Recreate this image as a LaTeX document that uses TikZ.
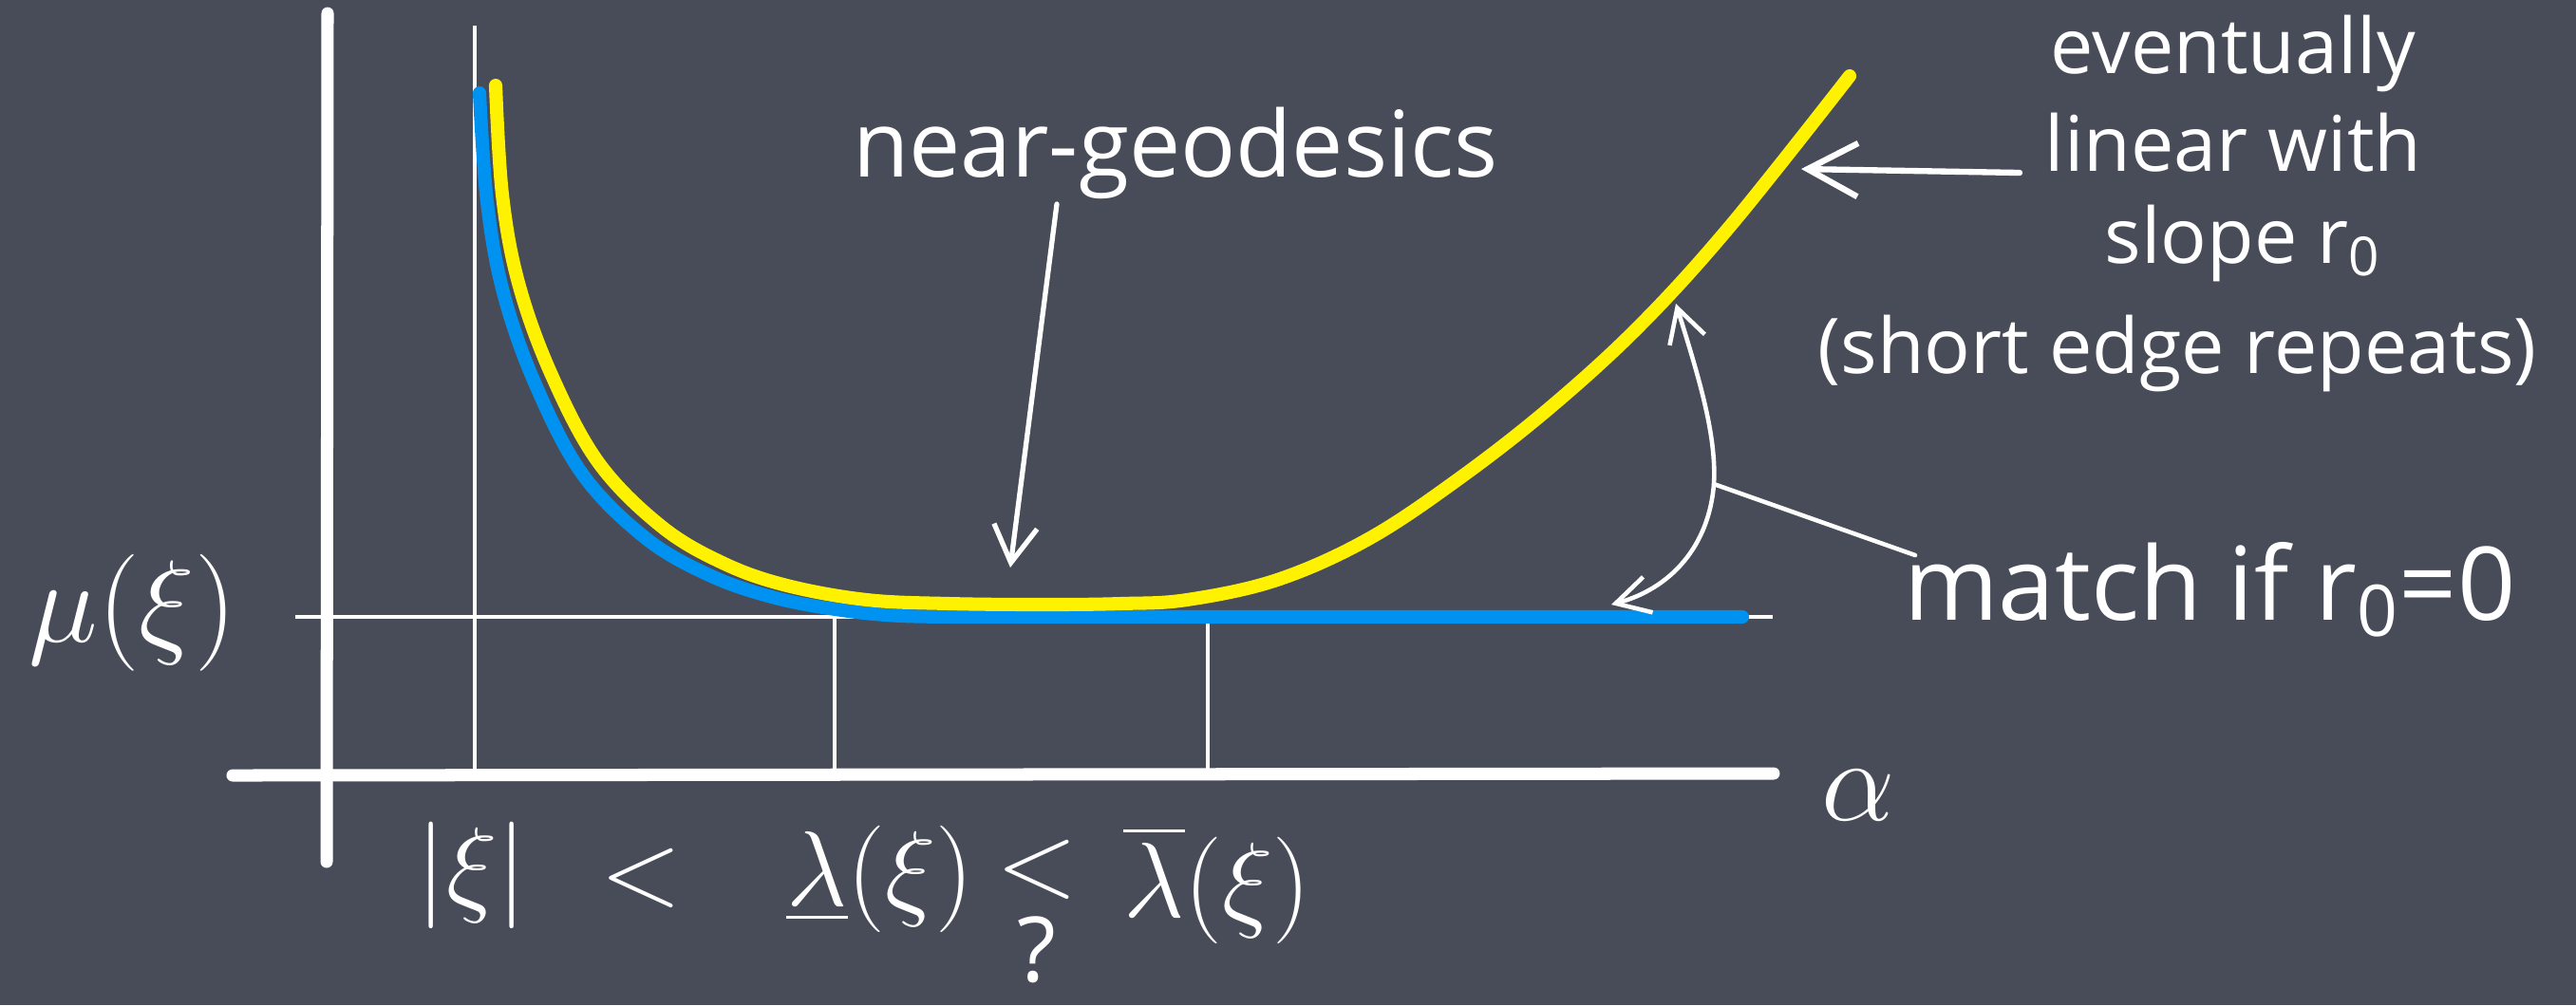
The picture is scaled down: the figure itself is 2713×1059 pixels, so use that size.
\RequirePackage{fix-cm}
\documentclass[tikz,border=0pt]{standalone}
\usepackage{amsmath}
\usepackage{fontspec}
\setmainfont{Open Sans}
\usetikzlibrary{arrows.meta}
\definecolor{board}{RGB}{72,76,89}
\definecolor{chalkyellow}{RGB}{255,242,0}
\definecolor{chalkblue}{RGB}{0,146,240}
\tikzset{
  axisthick/.style={white, line width=3.7pt, line cap=round},
  axisthin/.style={white, line width=1.4pt},
  curveblue/.style={chalkblue, line width=4pt, line cap=round},
  curveyellow/.style={chalkyellow, line width=4pt, line cap=round},
  bigpointer/.style={white, line width=1.8pt, line cap=round, -{Straight Barb[length=15pt,width=16pt,line width=1.8pt]}},
  pointer/.style={white, line width=1.5pt, line cap=round, -{Straight Barb[length=11pt,width=13pt,line width=1.5pt]}},
  thinpointer/.style={white, line width=1.3pt, line cap=round, {Straight Barb[length=10pt,width=11pt,line width=1.3pt]}-{Straight Barb[length=10pt,width=11pt,line width=1.3pt]}},
  leader/.style={white, line width=1.3pt, line cap=round},
  lbl/.style={text=white, inner sep=0pt, outer sep=0pt},
  mathlbl/.style={lbl, font=\fontsize{32}{36}\selectfont},
  textlbl/.style={lbl, font=\fontsize{27.5}{31}\selectfont},
  sidelbl/.style={lbl, font=\fontsize{23}{27}\selectfont},
  matchlbl/.style={lbl, font=\fontsize{30.5}{34}\selectfont}
}
\begin{document}
\begin{tikzpicture}[x=0.01cm,y=-0.01cm]
\fill[board] (0,0) rectangle (2713,1059);
\useasboundingbox (0,0) rectangle (2713,1059);

% axes and guide lines
\coordinate (yTop) at (345,14);
\coordinate (yBot) at (344,908);
\coordinate (xLeft) at (245,817);
\coordinate (xRight) at (1868,815);
\coordinate (xiTop) at (500,27);
\coordinate (xiBot) at (500,816);
\coordinate (muLeft) at (311,650);
\coordinate (muRight) at (1867,650);
\coordinate (lamTop) at (879,650);
\coordinate (lamBot) at (879,816);
\coordinate (lbTop) at (1272,650);
\coordinate (lbBot) at (1272,816);

\draw[axisthin] (xiTop) -- (xiBot);
\draw[axisthin] (muLeft) -- (muRight);
\draw[axisthin] (lamTop) -- (lamBot);
\draw[axisthin] (lbTop) -- (lbBot);
\draw[axisthick] (yTop) -- (yBot);
\draw[axisthick] (xLeft) -- (xRight);

% curves
\coordinate (blueEnd) at (1835,650);
\draw[curveblue] plot[smooth, tension=0.6] coordinates {(505,98) (513,213) (530,308) (563,403) (613,499) (680,567) (747,606) (813,629) (880,642) (950,649) (1050,650)} -- (blueEnd);
\draw[curveyellow] plot[smooth, tension=0.6] coordinates {(522,90) (529,205) (546,298) (580,393) (630,487) (697,555) (763,594) (829,617) (913,632) (1000,636) (1100,637) (1180,636) (1250,632) (1345,611) (1441,568) (1537,504) (1633,429) (1728,342) (1824,236) (1948,80)};

% labels on axes
\node[mathlbl, font=\fontsize{35}{40}\selectfont, anchor=base] (mu) at (140,676) {$\mu(\xi)$};
\node[mathlbl, font=\fontsize{35}{40}\selectfont] (alpha) at (1957,838) {$\alpha$};
\node[mathlbl, anchor=base] (absxi) at (497,950) {$|\xi|$};
\node[mathlbl] (lt) at (675,925) {$<$};
\node[mathlbl, anchor=base] (lamlow) at (927,954) {$\underline{\lambda}(\xi)$};
\node[mathlbl] (le) at (1092,916) {$<$};
\node[lbl, font=\fontsize{27}{30}\selectfont, anchor=base] (qm) at (1092,1034) {?};
\node[mathlbl, anchor=base] (lamup) at (1282,966) {$\overline{\lambda}(\xi)$};

% near-geodesics
\node[textlbl, anchor=base] (ng) at (1238,186) {near-geodesics};
\coordinate (ngTail) at (1113,215);
\coordinate (ngTip) at (1064,598);
\draw[pointer] (ngTail) -- (ngTip);

% right text block
\node[sidelbl, anchor=base] (t1) at (2352,77) {eventually};
\node[sidelbl, anchor=base] (t2) at (2352,180) {linear with};
\node[sidelbl, anchor=base] (t3) at (2362,277) {slope r\textsubscript{0}};
\node[sidelbl, anchor=base] (t4) at (2293,393) {(short edge repeats)};
\coordinate (evTail) at (2127,182);
\coordinate (evTip) at (1897,178);
\draw[bigpointer] (evTail) -- (evTip);

% match arrow
\node[matchlbl, anchor=base west] (match) at (2005,653) {match if r\textsubscript{0}=0};
\coordinate (arcTop) at (1765,320);
\coordinate (arcMid) at (1805,510);
\coordinate (arcBot) at (1697,637);
\coordinate (leadEnd) at (2017,585);
\draw[thinpointer] (arcTop) .. controls (1790,400) and (1808,460) .. (arcMid) .. controls (1800,575) and (1760,620) .. (arcBot);
\draw[leader] (arcMid) -- (leadEnd);
\end{tikzpicture}
\end{document}
